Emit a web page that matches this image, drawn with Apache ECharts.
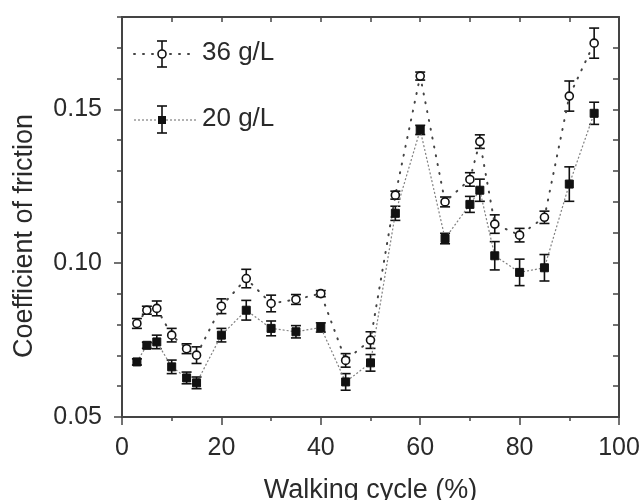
<!DOCTYPE html>
<html>
<head>
<meta charset="utf-8">
<script src="https://cdn.jsdelivr.net/npm/echarts@6/dist/echarts.min.js"></script>
<style>
html,body{margin:0;padding:0;background:#fff;}
#chart{width:644px;height:500px;}
</style>
</head>
<body>
<div id="chart"></div>
<script>
const xValues = [3,5,7,10,13,15,20,25,30,35,40,45,50,55,60,65,70,72,75,80,85,90,95];
const cof36 = [0.0804,0.0847,0.0853,0.0766,0.0722,0.0701,0.0860,0.0950,0.0869,0.0882,0.0901,0.0684,0.0750,0.1221,0.1608,0.1199,0.1272,0.1395,0.1127,0.1091,0.1149,0.1543,0.1715];
const err36 = [0.0016,0.0013,0.0024,0.0022,0.0016,0.0027,0.0024,0.0030,0.0027,0.0016,0.0010,0.0022,0.0027,0.0013,0.0013,0.0016,0.0022,0.0022,0.0030,0.0022,0.0020,0.0049,0.0049];
const cof20 = [0.0679,0.0733,0.0744,0.0663,0.0627,0.0611,0.0766,0.0847,0.0788,0.0777,0.0791,0.0614,0.0676,0.1162,0.1433,0.1080,0.1191,0.1237,0.1024,0.0970,0.0985,0.1257,0.1487];
const err20 = [0.0010,0.0010,0.0022,0.0022,0.0019,0.0019,0.0022,0.0032,0.0024,0.0020,0.0015,0.0027,0.0027,0.0023,0.0015,0.0017,0.0026,0.0036,0.0046,0.0043,0.0043,0.0056,0.0036];
const seriesNames = ['36 g/L', '20 g/L'];
const xTitle = 'Walking cycle (%)';
const yTitle = 'Coefficient of friction';

const FONT = 'Liberation Sans, Arial, sans-serif';
const AX = '#444';
const TXT = '#2a2a2a';

const chart = echarts.init(document.getElementById('chart'), null, {renderer: 'canvas'});

function errData(vals, errs) {
  return xValues.map((x, i) => [x, vals[i] - errs[i], vals[i] + errs[i]]);
}
function errRender(params, api) {
  const x = api.value(0);
  const lo = api.coord([x, api.value(1)]);
  const hi = api.coord([x, api.value(2)]);
  const hw = 5;
  const st = {stroke: '#111', lineWidth: 1.6};
  return {
    type: 'group',
    children: [
      {type: 'line', shape: {x1: lo[0], y1: lo[1], x2: hi[0], y2: hi[1]}, style: st},
      {type: 'line', shape: {x1: lo[0] - hw, y1: lo[1], x2: lo[0] + hw, y2: lo[1]}, style: st},
      {type: 'line', shape: {x1: hi[0] - hw, y1: hi[1], x2: hi[0] + hw, y2: hi[1]}, style: st}
    ]
  };
}

const baseX = {
  type: 'value', min: 0, max: 100,
  splitLine: {show: false},
  axisLine: {onZero: false, lineStyle: {color: AX, width: 2}}
};
const baseY = {
  type: 'value', min: 0.05, max: 0.18,
  splitLine: {show: false},
  axisLine: {onZero: false, lineStyle: {color: AX, width: 2}}
};

const option = {
  backgroundColor: '#fff',
  animation: false,
  grid: {left: 122, right: 25, top: 17, bottom: 83, containLabel: false, outerBoundsMode: 'none'},
  xAxis: [
    Object.assign({}, baseX, {
      position: 'bottom', interval: 20,
      name: xTitle, nameLocation: 'middle', nameGap: 60,
      nameTextStyle: {fontFamily: FONT, fontSize: 27, color: TXT},
      axisTick: {inside: false, length: 8, lineStyle: {color: AX, width: 1.5}},
      axisLabel: {margin: 19, fontFamily: FONT, fontSize: 25, color: TXT}
    }),
    Object.assign({}, baseX, {
      position: 'bottom', interval: 10,
      axisTick: {inside: false, length: 4, lineStyle: {color: AX, width: 1.5}},
      axisLabel: {show: false}
    }),
    Object.assign({}, baseX, {
      position: 'top', interval: 10,
      axisTick: {inside: true, length: 5, lineStyle: {color: AX, width: 1.5}},
      axisLabel: {show: false}
    })
  ],
  yAxis: [
    Object.assign({}, baseY, {
      position: 'left', interval: 0.05,
      name: yTitle, nameLocation: 'middle', nameGap: 84,
      nameTextStyle: {fontFamily: FONT, fontSize: 27, color: TXT, padding: [0, 38, 0, 0]},
      axisTick: {inside: false, length: 8, lineStyle: {color: AX, width: 1.5}},
      axisLabel: {margin: 20, fontFamily: FONT, fontSize: 25, color: TXT, showMaxLabel: false,
        formatter: v => v.toFixed(2)}
    }),
    Object.assign({}, baseY, {
      position: 'left', interval: 0.01,
      axisTick: {inside: false, length: 5, lineStyle: {color: AX, width: 1.5}},
      axisLabel: {show: false}
    }),
    Object.assign({}, baseY, {
      position: 'right', interval: 0.01,
      axisTick: {inside: true, length: 6, lineStyle: {color: AX, width: 1.5}},
      axisLabel: {show: false}
    })
  ],
  series: [
    {
      name: seriesNames[0] + ' err', type: 'custom', xAxisIndex: 0, yAxisIndex: 0,
      renderItem: errRender, data: errData(cof36, err36), z: 3, silent: true
    },
    {
      name: seriesNames[1] + ' err', type: 'custom', xAxisIndex: 0, yAxisIndex: 0,
      renderItem: errRender, data: errData(cof20, err20), z: 3, silent: true
    },
    {
      name: seriesNames[0], type: 'line', xAxisIndex: 0, yAxisIndex: 0,
      data: xValues.map((x, i) => [x, cof36[i]]),
      symbol: 'circle', symbolSize: 8,
      itemStyle: {color: '#fff', borderColor: '#111', borderWidth: 1.6},
      lineStyle: {color: '#444', width: 2, type: [1, 8], cap: 'round'},
      z: 4
    },
    {
      name: seriesNames[1], type: 'line', xAxisIndex: 0, yAxisIndex: 0,
      data: xValues.map((x, i) => [x, cof20[i]]),
      symbol: 'rect', symbolSize: 8,
      itemStyle: {color: '#111', borderColor: '#111', borderWidth: 1},
      lineStyle: {color: '#808080', width: 1.2, type: [2, 2]},
      z: 4
    }
  ],
  graphic: [
    {type: 'line', shape: {x1: 134, y1: 54, x2: 196, y2: 54}, style: {stroke: '#444', lineWidth: 2, lineDash: [1, 8], lineCap: 'round'}, z: 10},
    {type: 'line', shape: {x1: 162, y1: 41, x2: 162, y2: 67}, style: {stroke: '#111', lineWidth: 1.6}, z: 10},
    {type: 'line', shape: {x1: 157, y1: 41, x2: 167, y2: 41}, style: {stroke: '#111', lineWidth: 1.6}, z: 10},
    {type: 'line', shape: {x1: 157, y1: 67, x2: 167, y2: 67}, style: {stroke: '#111', lineWidth: 1.6}, z: 10},
    {type: 'circle', shape: {cx: 162, cy: 54, r: 4}, style: {fill: '#fff', stroke: '#111', lineWidth: 1.6}, z: 11},
    {type: 'text', left: 202, top: 40, style: {text: seriesNames[0], fontFamily: FONT, fontSize: 26, fill: TXT}, z: 10},
    {type: 'line', shape: {x1: 134, y1: 120, x2: 196, y2: 120}, style: {stroke: '#808080', lineWidth: 1.2, lineDash: [2, 2]}, z: 10},
    {type: 'line', shape: {x1: 162, y1: 106, x2: 162, y2: 133}, style: {stroke: '#111', lineWidth: 1.6}, z: 10},
    {type: 'line', shape: {x1: 157, y1: 106, x2: 167, y2: 106}, style: {stroke: '#111', lineWidth: 1.6}, z: 10},
    {type: 'line', shape: {x1: 157, y1: 133, x2: 167, y2: 133}, style: {stroke: '#111', lineWidth: 1.6}, z: 10},
    {type: 'rect', shape: {x: 158, y: 116, width: 8, height: 8}, style: {fill: '#111'}, z: 11},
    {type: 'text', left: 202, top: 106, style: {text: seriesNames[1], fontFamily: FONT, fontSize: 26, fill: TXT}, z: 10}
  ]
};
chart.setOption(option);
</script>
</body>
</html>
